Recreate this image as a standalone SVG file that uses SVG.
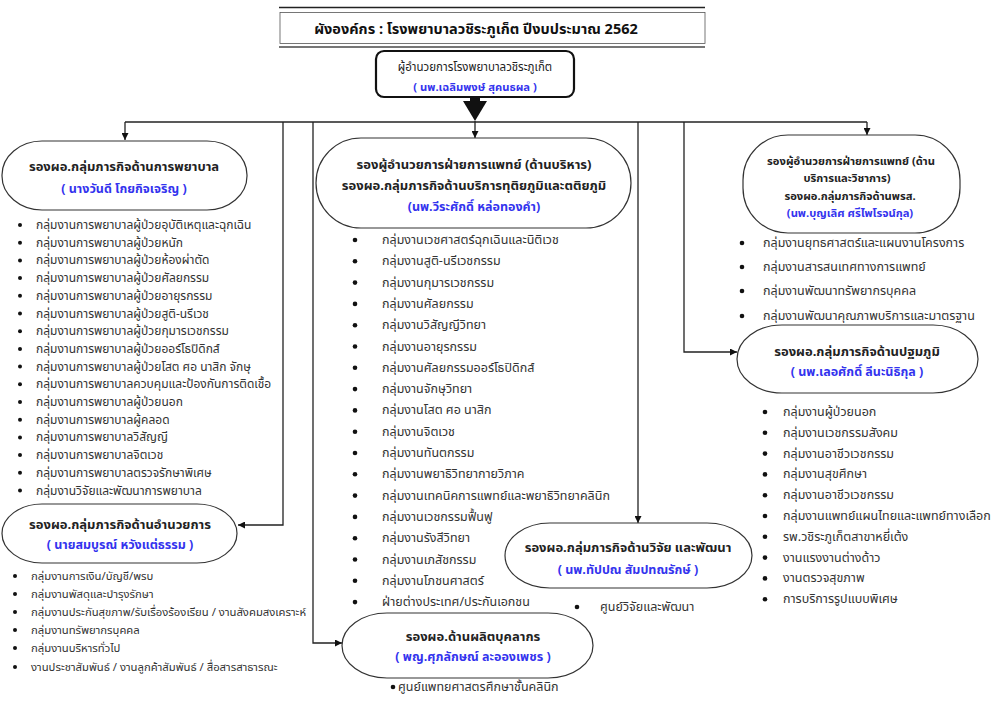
<svg xmlns="http://www.w3.org/2000/svg" width="995" height="705" viewBox="0 0 995 705">
<style>
text{font-family:Tahoma,"Noto Sans Thai","Noto Sans","DejaVu Sans",sans-serif}
.node{fill:#fff;stroke:#333;stroke-width:1.2}
.h{font-size:13px;font-weight:bold;fill:#222;text-anchor:middle}
.b{font-size:12.5px;font-weight:bold;fill:#3333ee;text-anchor:middle}
.li{font-size:12.5px;fill:#333}
.sm{font-size:12px}
.xs{font-size:11.3px}
.rh{font-size:11.2px}
.bul{fill:#111}
.c{fill:none;stroke:#222;stroke-width:1.3}
</style>
<defs>
<marker id="ah" viewBox="0 0 10 10" refX="10" refY="5" markerWidth="7" markerHeight="7" orient="auto" markerUnits="userSpaceOnUse">
<path d="M0,0L10,5L0,10z" fill="#111"/>
</marker>
</defs>
<rect width="995" height="705" fill="#fff"/>
<g id="title">
<line x1="279" y1="7.5" x2="705" y2="7.5" stroke="#222" stroke-width="1.5"/>
<rect x="280" y="12.5" width="425" height="31" fill="#fff" stroke="#555" stroke-width="0.8"/>
<line x1="279" y1="47" x2="705" y2="47" stroke="#777" stroke-width="2"/>
<text x="476" y="34" style="font-size:14.5px;font-weight:bold;fill:#111;text-anchor:middle">ผังองค์กร : โรงพยาบาลวชิระภูเก็ต ปีงบประมาณ 2562</text>
</g>
<g id="connectors">
<rect x="470" y="97" width="10" height="5" fill="#111"/>
<path d="M463,101L487,101L475,121z" fill="#111"/>
<line class="c" x1="125" y1="122" x2="867" y2="122"/>
<line class="c" x1="125" y1="122" x2="125" y2="140" marker-end="url(#ah)"/>
<polyline class="c" points="283,122 283,525 238,525" marker-end="url(#ah)"/>
<polyline class="c" points="313,122 313,643 342,643" marker-end="url(#ah)"/>
<line class="c" x1="475" y1="121" x2="475" y2="138" marker-end="url(#ah)"/>
<line class="c" x1="638" y1="122" x2="638" y2="523" marker-end="url(#ah)"/>
<polyline class="c" points="684,122 684,352 737,352" marker-end="url(#ah)"/>
<line class="c" x1="867" y1="122" x2="867" y2="135" marker-end="url(#ah)"/>
</g>
<g id="director">
<rect x="376" y="51" width="198" height="46" rx="8" fill="#fff" stroke="#111" stroke-width="2.2"/>
<text x="475" y="71" style="font-size:11.5px;fill:#222;text-anchor:middle">ผู้อำนวยการโรงพยาบาลวชิระภูเก็ต</text>
<text x="475" y="91" class="b" style="font-size:11.2px">( นพ.เฉลิมพงษ์  สุคนธผล )</text>
</g>
<g id="nursing">
<rect class="node" x="2" y="141" width="245" height="69" rx="40" ry="34"/>
<text class="h" x="124" y="171">รองผอ.กลุ่มภารกิจด้านการพยาบาล</text>
<text class="b" x="124" y="193">( นางวันดี โกยกิจเจริญ  )</text>
<g class="li sm">
<circle class="bul" cx="20" cy="225" r="2"/><text x="36" y="229">กลุ่มงานการพยาบาลผู้ป่วยอุบัติเหตุและฉุกเฉิน</text>
<circle class="bul" cx="20" cy="242.7" r="2"/><text x="36" y="246.7">กลุ่มงานการพยาบาลผู้ป่วยหนัก</text>
<circle class="bul" cx="20" cy="260.4" r="2"/><text x="36" y="264.4">กลุ่มงานการพยาบาลผู้ป่วยห้องผ่าตัด</text>
<circle class="bul" cx="20" cy="278.1" r="2"/><text x="36" y="282.1">กลุ่มงานการพยาบาลผู้ป่วยศัลยกรรม</text>
<circle class="bul" cx="20" cy="295.8" r="2"/><text x="36" y="299.8">กลุ่มงานการพยาบาลผู้ป่วยอายุรกรรม</text>
<circle class="bul" cx="20" cy="313.5" r="2"/><text x="36" y="317.5">กลุ่มงานการพยาบาลผู้ป่วยสูติ-นรีเวช</text>
<circle class="bul" cx="20" cy="331.2" r="2"/><text x="36" y="335.2">กลุ่มงานการพยาบาลผู้ป่วยกุมารเวชกรรม</text>
<circle class="bul" cx="20" cy="348.9" r="2"/><text x="36" y="352.9">กลุ่มงานการพยาบาลผู้ป่วยออร์โธปิดิกส์</text>
<circle class="bul" cx="20" cy="366.6" r="2"/><text x="36" y="370.6">กลุ่มงานการพยาบาลผู้ป่วยโสต ศอ นาสิก จักษุ</text>
<circle class="bul" cx="20" cy="384.3" r="2"/><text x="36" y="388.3">กลุ่มงานการพยาบาลควบคุมและป้องกันการติดเชื้อ</text>
<circle class="bul" cx="20" cy="402" r="2"/><text x="36" y="406">กลุ่มงานการพยาบาลผู้ป่วยนอก</text>
<circle class="bul" cx="20" cy="419.7" r="2"/><text x="36" y="423.7">กลุ่มงานการพยาบาลผู้คลอด</text>
<circle class="bul" cx="20" cy="437.4" r="2"/><text x="36" y="441.4">กลุ่มงานการพยาบาลวิสัญญี</text>
<circle class="bul" cx="20" cy="455.1" r="2"/><text x="36" y="459.1">กลุ่มงานการพยาบาลจิตเวช</text>
<circle class="bul" cx="20" cy="472.8" r="2"/><text x="36" y="476.8">กลุ่มงานการพยาบาลตรวจรักษาพิเศษ</text>
<circle class="bul" cx="20" cy="490.5" r="2"/><text x="36" y="494.5">กลุ่มงานวิจัยและพัฒนาการพยาบาล</text>
</g>
</g>
<g id="admin">
<rect class="node" x="2" y="504" width="235" height="59" rx="40" ry="29.5"/>
<text class="h" x="120" y="529">รองผอ.กลุ่มภารกิจด้านอำนวยการ</text>
<text class="b" x="120" y="549">( นายสมบูรณ์ หวังแต่ธรรม )</text>
<g class="li xs">
<circle class="bul" cx="15" cy="576" r="2"/><text x="31" y="580">กลุ่มงานการเงิน/บัญชี/พรบ</text>
<circle class="bul" cx="15" cy="594" r="2"/><text x="31" y="598">กลุ่มงานพัสดุและบำรุงรักษา</text>
<circle class="bul" cx="15" cy="612" r="2"/><text x="31" y="616">กลุ่มงานประกันสุขภาพ/รับเรื่องร้องเรียน / งานสังคมสงเคราะห์</text>
<circle class="bul" cx="15" cy="630" r="2"/><text x="31" y="634">กลุ่มงานทรัพยากรบุคคล</text>
<circle class="bul" cx="15" cy="648" r="2"/><text x="31" y="652">กลุ่มงานบริหารทั่วไป</text>
<circle class="bul" cx="15" cy="667" r="2"/><text x="31" y="671">งานประชาสัมพันธ์ / งานลูกค้าสัมพันธ์ / สื่อสารสาธารณะ</text>
</g>
</g>
<g id="medical">
<rect class="node" x="316" y="138" width="315" height="90" rx="45"/>
<text class="h" x="474" y="169">รองผู้อำนวยการฝ่ายการแพทย์ (ด้านบริหาร)</text>
<text class="h" x="474" y="190">รองผอ.กลุ่มภารกิจด้านบริการทุติยภูมิและตติยภูมิ</text>
<text class="b" x="474" y="211">(นพ.วีระศักดิ์  หล่อทองคำ)</text>
<g class="li">
<circle class="bul" cx="355" cy="240" r="2.3"/><text x="382" y="244">กลุ่มงานเวชศาสตร์ฉุกเฉินและนิติเวช</text>
<circle class="bul" cx="355" cy="261.3" r="2.3"/><text x="382" y="265.3">กลุ่มงานสูติ-นรีเวชกรรม</text>
<circle class="bul" cx="355" cy="282.6" r="2.3"/><text x="382" y="286.6">กลุ่มงานกุมารเวชกรรม</text>
<circle class="bul" cx="355" cy="303.9" r="2.3"/><text x="382" y="307.9">กลุ่มงานศัลยกรรม</text>
<circle class="bul" cx="355" cy="325.2" r="2.3"/><text x="382" y="329.2">กลุ่มงานวิสัญญีวิทยา</text>
<circle class="bul" cx="355" cy="346.5" r="2.3"/><text x="382" y="350.5">กลุ่มงานอายุรกรรม</text>
<circle class="bul" cx="355" cy="367.8" r="2.3"/><text x="382" y="371.8">กลุ่มงานศัลยกรรมออร์โธปิดิกส์</text>
<circle class="bul" cx="355" cy="389.1" r="2.3"/><text x="382" y="393.1">กลุ่มงานจักษุวิทยา</text>
<circle class="bul" cx="355" cy="410.4" r="2.3"/><text x="382" y="414.4">กลุ่มงานโสต ศอ นาสิก</text>
<circle class="bul" cx="355" cy="431.7" r="2.3"/><text x="382" y="435.7">กลุ่มงานจิตเวช</text>
<circle class="bul" cx="355" cy="453" r="2.3"/><text x="382" y="457">กลุ่มงานทันตกรรม</text>
<circle class="bul" cx="355" cy="474.3" r="2.3"/><text x="382" y="478.3">กลุ่มงานพยาธิวิทยากายวิภาค</text>
<circle class="bul" cx="355" cy="495.6" r="2.3"/><text x="382" y="499.6">กลุ่มงานเทคนิคการแพทย์และพยาธิวิทยาคลินิก</text>
<circle class="bul" cx="355" cy="516.9" r="2.3"/><text x="382" y="520.9">กลุ่มงานเวชกรรมฟื้นฟู</text>
<circle class="bul" cx="355" cy="538.2" r="2.3"/><text x="382" y="542.2">กลุ่มงานรังสีวิทยา</text>
<circle class="bul" cx="355" cy="559.5" r="2.3"/><text x="382" y="563.5">กลุ่มงานเภสัชกรรม</text>
<circle class="bul" cx="355" cy="580.8" r="2.3"/><text x="382" y="584.8">กลุ่มงานโภชนศาสตร์</text>
<circle class="bul" cx="355" cy="602.1" r="2.3"/><text x="382" y="606.1">ฝ่ายต่างประเทศ/ประกันเอกชน</text>
</g>
</g>
<g id="education">
<rect class="node" x="342" y="613" width="251" height="65" rx="45" ry="32.5"/>
<text class="h" x="473" y="641">รองผอ.ด้านผลิตบุคลากร</text>
<text class="b" x="473" y="661">( พญ.ศุภลักษณ์  ละอองเพชร )</text>
<circle class="bul" cx="393" cy="687" r="2.3"/><text class="li" x="398" y="691">ศูนย์แพทยศาสตรศึกษาชั้นคลินิก</text>
</g>
<g id="research">
<rect class="node" x="505" y="523" width="247" height="65" rx="45" ry="32.5"/>
<text class="h" x="628" y="552">รองผอ.กลุ่มภารกิจด้านวิจัย และพัฒนา</text>
<text class="b" x="628" y="574">( นพ.ทัปปณ สัมปทณรักษ์ )</text>
<circle class="bul" cx="577" cy="607" r="2.3"/><text class="li" x="600" y="611">ศูนย์วิจัยและพัฒนา</text>
</g>
<g id="academic">
<rect class="node" x="743" y="135" width="217" height="98" rx="45"/>
<text class="h rh" x="851" y="164.5">รองผู้อำนวยการฝ่ายการแพทย์ (ด้าน</text>
<text class="h rh" x="847" y="182">บริการและวิชาการ)</text>
<text class="h rh" x="850" y="199.5">รองผอ.กลุ่มภารกิจด้านพรส.</text>
<text class="b rh" x="850" y="216.5">(นพ.บุญเลิศ  ศรีไพโรจน์กุล)</text>
<g class="li">
<circle class="bul" cx="742" cy="243" r="2.3"/><text x="763" y="247">กลุ่มงานยุทธศาสตร์และแผนงานโครงการ</text>
<circle class="bul" cx="742" cy="267" r="2.3"/><text x="763" y="271">กลุ่มงานสารสนเทศทางการแพทย์</text>
<circle class="bul" cx="742" cy="291" r="2.3"/><text x="763" y="295">กลุ่มงานพัฒนาทรัพยากรบุคคล</text>
<circle class="bul" cx="742" cy="316" r="2.3"/><text x="763" y="320">กลุ่มงานพัฒนาคุณภาพบริการและมาตรฐาน</text>
</g>
</g>
<g id="primary">
<rect class="node" x="737" y="325" width="241" height="68" rx="45" ry="34"/>
<text class="h" x="857" y="356">รองผอ.กลุ่มภารกิจด้านปฐมภูมิ</text>
<text class="b" x="857" y="376">( นพ.เลอศักดิ์  ลีนะนิธิกุล )</text>
<g class="li">
<circle class="bul" cx="765" cy="412" r="2.3"/><text x="783" y="416">กลุ่มงานผู้ป่วยนอก</text>
<circle class="bul" cx="765" cy="432.8" r="2.3"/><text x="783" y="436.8">กลุ่มงานเวชกรรมสังคม</text>
<circle class="bul" cx="765" cy="453.6" r="2.3"/><text x="783" y="457.6">กลุ่มงานอาชีวเวชกรรม</text>
<circle class="bul" cx="765" cy="474.4" r="2.3"/><text x="783" y="478.4">กลุ่มงานสุขศึกษา</text>
<circle class="bul" cx="765" cy="495.2" r="2.3"/><text x="783" y="499.2">กลุ่มงานอาชีวเวชกรรม</text>
<circle class="bul" cx="765" cy="516" r="2.3"/><text x="783" y="520">กลุ่มงานแพทย์แผนไทยและแพทย์ทางเลือก</text>
<circle class="bul" cx="765" cy="536.8" r="2.3"/><text x="783" y="540.8">รพ.วชิระภูเก็ตสาขาหยี่เต้ง</text>
<circle class="bul" cx="765" cy="557.6" r="2.3"/><text x="783" y="561.6">งานแรงงานต่างด้าว</text>
<circle class="bul" cx="765" cy="578.4" r="2.3"/><text x="783" y="582.4">งานตรวจสุขภาพ</text>
<circle class="bul" cx="765" cy="599.2" r="2.3"/><text x="783" y="603.2">การบริการรูปแบบพิเศษ</text>
</g>
</g>
</svg>
